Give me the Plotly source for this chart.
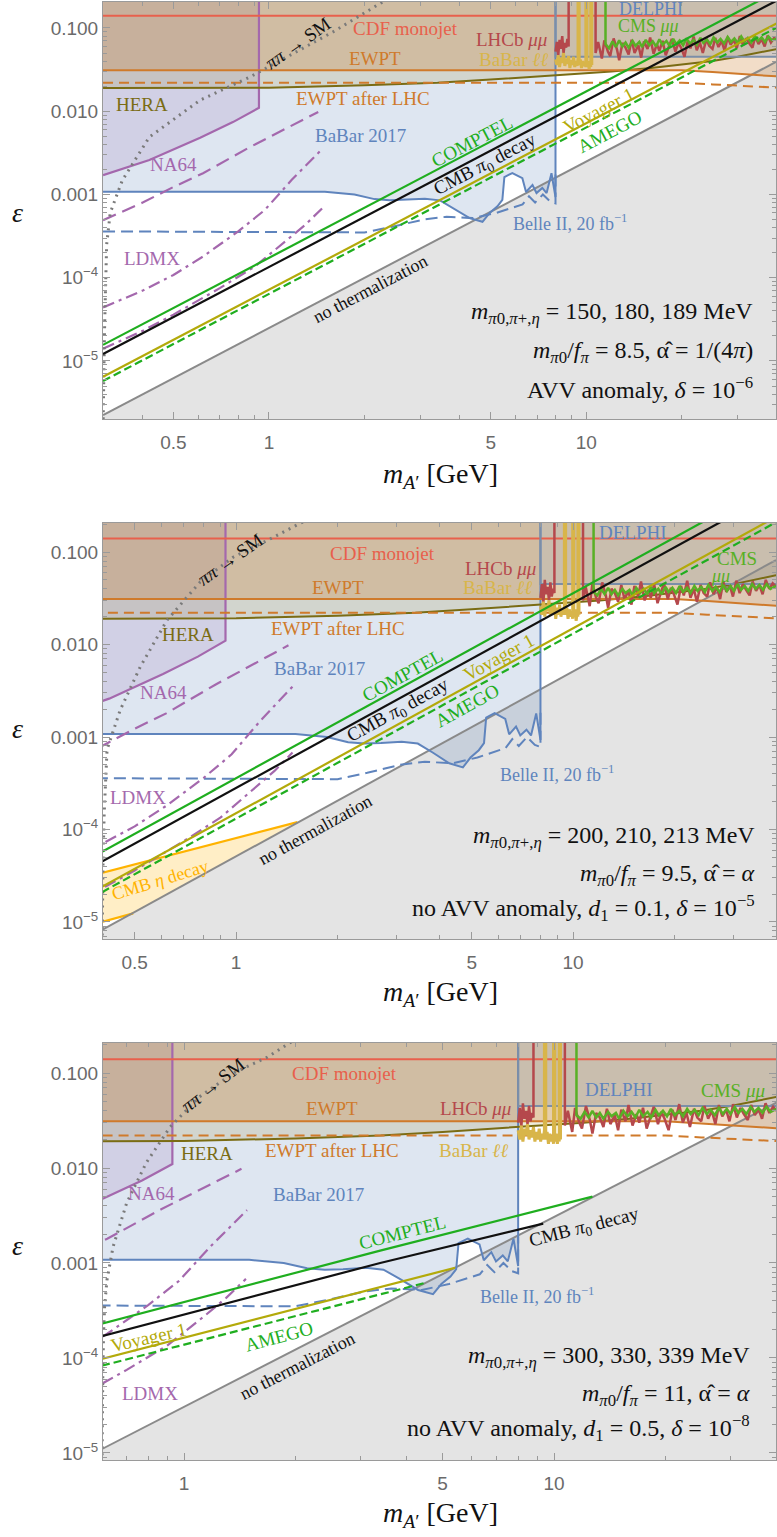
import plotly.graph_objects as go

CEIL = 1.0      # beyond top of every panel
FLOOR = 1e-9    # beyond bottom of every panel

# ---------------- shared experimental constraints ----------------
CDF_M = [0.3, 40.0]
CDF_EPS = [0.14, 0.14]
EWPT_M = [0.3, 20.0, 25.0, 30.0, 40.0]
EWPT_EPS = [0.031, 0.031, 0.0295, 0.028, 0.0262]
EWPT_LHC_M = [0.3, 20.0, 25.0, 30.0, 40.0]
EWPT_LHC_EPS = [0.022, 0.022, 0.021, 0.0202, 0.0192]
HERA_M = [0.3, 1.0, 2.0, 3.4, 5.0, 8.0, 12.0, 16.0, 20.0, 25.0, 30.0, 40.0]
HERA_EPS = [0.019, 0.0192, 0.0205, 0.022, 0.024, 0.027, 0.030, 0.033, 0.036, 0.040, 0.045, 0.056]
NA64_M = [0.3, 0.42, 0.607, 0.77, 0.93]
NA64_EPS = [1.71e-3, 2.6e-3, 4.8e-3, 7.4e-3, 0.011]
NA64_PROJ_M = [0.3, 0.4, 0.5, 0.62, 0.87, 1.1, 1.43]
NA64_PROJ_EPS = [4.9e-4, 8.0e-4, 1.23e-3, 1.8e-3, 3.7e-3, 5.9e-3, 9.8e-3]
LDMX_HI_M = [0.3, 0.4, 0.5, 0.62, 0.8, 0.97, 1.18, 1.48]
LDMX_HI_EPS = [4.4e-5, 7.0e-5, 1.08e-4, 1.8e-4, 3.6e-4, 6.5e-4, 1.5e-3, 3.6e-3]
LDMX_LO_M = [0.3, 0.4, 0.5, 0.7, 0.9, 1.14, 1.3, 1.47]
LDMX_LO_EPS = [1.4e-5, 2.3e-5, 3.6e-5, 7.5e-5, 1.35e-4, 2.8e-4, 4.3e-4, 6.8e-4]
BABAR17_M = [0.3, 1.5, 1.86, 2.15, 2.4, 2.69, 3.1, 3.46, 3.83, 4.29, 4.71, 4.96, 5.25, 5.44,
             5.52, 5.85, 6.29, 6.46, 6.77, 6.97, 7.27, 7.5, 7.77, 8.0]
BABAR17_EPS = [1.08e-3, 1.08e-3, 1.0e-3, 8.8e-4, 8.5e-4, 8.6e-4, 8.9e-4, 8.5e-4, 6.8e-4, 5.2e-4,
               4.7e-4, 6.0e-4, 7.2e-4, 8.6e-4, 1.62e-3, 1.81e-3, 1.57e-3, 1.07e-3, 1.3e-3, 1.04e-3,
               1.2e-3, 1.04e-3, 1.8e-3, 9.3e-4]
BELLE_M = [0.3, 2.0, 2.45, 3.07, 3.63, 4.39, 5.2, 5.85, 6.3, 6.6, 6.9, 7.3, 7.7, 8.0, 8.0]
BELLE_EPS = [3.6e-4, 3.5e-4, 4.1e-4, 5.0e-4, 5.4e-4, 5.2e-4, 6.0e-4, 6.9e-4, 7.6e-4, 9.5e-4,
             8.0e-4, 1.0e-3, 8.2e-4, 7.8e-4, 1.9e-3]
DELPHI_M = [8.0, 8.0, 40.0]
DELPHI_EPS = [CEIL, 0.045, 0.045]

# mass grids of the visible-decay searches
LHCB_A_M = [8.0, 8.08, 8.16, 8.24, 8.32, 8.4, 8.48, 8.56, 8.64, 8.72, 8.8]
LHCB_B_M = [10.7, 10.9, 11.2, 11.4, 11.7, 11.9, 12.2, 12.5, 12.7, 13.0, 13.3, 13.6, 13.9, 14.2, 14.6,
            14.9, 15.2, 15.6, 15.9, 16.3, 16.7, 17.0, 17.4, 17.8, 18.2, 18.6, 19.1, 19.5, 19.9, 20.4,
            20.9, 21.3, 21.8, 22.3, 22.8, 23.3, 23.9, 24.4, 25.0, 25.5, 26.1, 26.7, 27.3, 27.9, 28.5,
            29.2, 29.8, 30.5, 31.2, 31.9, 32.6, 33.4, 34.1, 34.9, 35.7, 36.5, 37.3, 38.2, 39.1, 40.0]
CMS_M = [11.5, 11.8, 12.1, 12.4, 12.7, 13.0, 13.3, 13.6, 14.0, 14.3, 14.7, 15.0, 15.4, 15.8, 16.2,
         16.6, 17.0, 17.4, 17.9, 18.3, 18.8, 19.2, 19.7, 20.2, 20.7, 21.2, 21.8, 22.3, 22.9, 23.4,
         24.0, 24.6, 25.2, 25.9, 26.5, 27.2, 27.9, 28.6, 29.3, 30.0, 30.8, 31.5, 32.3, 33.1, 34.0,
         34.8, 35.7, 36.6, 37.5, 38.5, 40.0]
BBLL_M = [8.0, 8.08, 8.16, 8.24, 8.32, 8.4, 8.48, 8.56, 8.64, 8.72, 8.8, 8.88, 8.96, 9.04, 9.12,
          9.2, 9.28, 9.36, 9.42, 9.42, 9.5, 9.5, 9.58, 9.66, 9.74, 9.82, 9.9, 9.97, 9.97, 10.05,
          10.05, 10.13, 10.21, 10.29, 10.33, 10.33, 10.41, 10.41]
C = CEIL

# ---------------- panel 1 ----------------
P1_NOTH_M, P1_NOTH_EPS = [0.3, 40.0], [2.24e-6, 0.0398]
P1_COMPTEL_M, P1_COMPTEL_EPS = [0.3, 40.0], [1.56e-5, 0.277]
P1_CMBPI_M, P1_CMBPI_EPS = [0.3, 40.0], [1.21e-5, 0.215]
P1_VOY_M, P1_VOY_EPS = [0.3, 40.0], [6.45e-6, 0.1147]
P1_AMEGO_M, P1_AMEGO_EPS = [0.3, 40.0], [5.75e-6, 0.102]
P1_PIPI_M = [0.3003, 0.301, 0.303, 0.305, 0.308, 0.316, 0.345, 0.42, 0.607, 0.87, 1.25, 1.59, 2.28, 2.6]
P1_PIPI_EPS = [2e-6, 6e-6, 2e-5, 6e-5, 2.5e-4, 6e-4, 1.48e-3, 4.9e-3, 0.0136, 0.0257, 0.0545, 0.0895, 0.205, 0.26]
P1_LHCB_A = [0.052, 0.068, 0.047, 0.072, 0.056, 0.08, 0.05, 0.066, 0.058, 0.074, 0.06]
P1_LHCB_B = [0.050, 0.068, 0.043, 0.071, 0.052, 0.046, 0.075, 0.055, 0.041, 0.066,
             0.058, 0.048, 0.072, 0.05, 0.062, 0.044, 0.069, 0.056, 0.077, 0.049,
             0.064, 0.053, 0.07, 0.047, 0.06, 0.074, 0.052, 0.066, 0.058, 0.045,
             0.071, 0.057, 0.079, 0.054, 0.067, 0.05, 0.073, 0.061, 0.056, 0.076,
             0.059, 0.07, 0.053, 0.078, 0.063, 0.072, 0.057, 0.08, 0.062, 0.075,
             0.066, 0.058, 0.079, 0.064, 0.073, 0.06, 0.081, 0.067, 0.076, 0.07]
P1_CMS = [0.064, 0.057, 0.069, 0.059, 0.071, 0.06, 0.067, 0.058, 0.07, 0.061,
          0.068, 0.059, 0.072, 0.062, 0.069, 0.06, 0.073, 0.063, 0.07, 0.061,
          0.074, 0.064, 0.071, 0.062, 0.075, 0.065, 0.072, 0.063, 0.076, 0.066,
          0.073, 0.064, 0.077, 0.067, 0.074, 0.065, 0.078, 0.068, 0.075, 0.066,
          0.079, 0.069, 0.076, 0.067, 0.08, 0.07, 0.077, 0.068, 0.079, 0.071, 0.075]
P1_BBLL = [0.042, 0.036, 0.047, 0.034, 0.044, 0.038, 0.05, 0.035, 0.043, 0.037, 0.046, 0.033, 0.041,
           0.036, 0.045, 0.034, 0.04, 0.035, 0.043, C, C, 0.036, 0.042, 0.033, 0.04, 0.035, 0.038,
           0.034, C, C, 0.035, 0.04, 0.032, 0.038, 0.034, C, C, 0.036]

# ---------------- panel 2 ----------------
P2_NOTH_M, P2_NOTH_EPS = [0.4, 40.0], [8.2e-6, 0.082]
P2_COMPTEL_M, P2_COMPTEL_EPS = [0.4, 40.0], [5.75e-5, 0.575]
P2_CMBPI_M, P2_CMBPI_EPS = [0.4, 40.0], [4.5e-5, 0.45]
P2_VOY_M, P2_VOY_EPS = [0.4, 40.0], [2.4e-5, 0.24]
P2_AMEGO_M, P2_AMEGO_EPS = [0.4, 40.0], [2.1e-5, 0.21]
P2_ETA_HI_M, P2_ETA_HI_EPS = [0.4, 1.52], [3.4e-5, 1.2e-4]
P2_ETA_LO_M, P2_ETA_LO_EPS = [0.4, 0.495], [1.0e-5, 1.24e-5]
P2_PIPI_M = [0.4003, 0.401, 0.403, 0.406, 0.41, 0.414, 0.453, 0.519, 0.624, 0.782, 0.98, 1.24, 1.55, 1.8]
P2_PIPI_EPS = [6e-6, 1.5e-5, 5e-5, 1.5e-4, 4e-4, 7.3e-4, 1.96e-3, 5.7e-3, 0.0184, 0.0474, 0.088, 0.134, 0.205, 0.26]
P2_LHCB_A = [0.032, 0.045, 0.028, 0.05, 0.035, 0.042, 0.03, 0.047, 0.033, 0.04, 0.036]
P2_LHCB_B = [0.030, 0.042, 0.026, 0.045, 0.032, 0.028, 0.047, 0.034, 0.025, 0.04,
             0.036, 0.029, 0.044, 0.031, 0.038, 0.027, 0.043, 0.033, 0.048, 0.03,
             0.039, 0.032, 0.045, 0.028, 0.037, 0.046, 0.031, 0.041, 0.035, 0.027,
             0.043, 0.034, 0.049, 0.032, 0.04, 0.029, 0.044, 0.036, 0.033, 0.047,
             0.035, 0.042, 0.031, 0.048, 0.037, 0.043, 0.033, 0.049, 0.036, 0.045,
             0.039, 0.034, 0.048, 0.038, 0.044, 0.035, 0.05, 0.04, 0.046, 0.042]
P2_CMS = [0.037, 0.034, 0.04, 0.035, 0.041, 0.035, 0.039, 0.034, 0.04, 0.036,
          0.039, 0.034, 0.041, 0.036, 0.04, 0.035, 0.042, 0.036, 0.04, 0.035,
          0.042, 0.037, 0.041, 0.036, 0.043, 0.037, 0.041, 0.036, 0.043, 0.038,
          0.042, 0.037, 0.044, 0.038, 0.042, 0.037, 0.044, 0.038, 0.043, 0.038,
          0.045, 0.039, 0.043, 0.038, 0.045, 0.04, 0.044, 0.039, 0.045, 0.04, 0.043]
P2_BBLL = [0.026, 0.021, 0.029, 0.02, 0.027, 0.023, 0.03, 0.021, 0.026, 0.022, 0.028, 0.019, 0.025,
           0.021, 0.027, 0.02, 0.024, 0.021, 0.026, C, C, 0.021, 0.025, 0.019, 0.024, 0.02, 0.023,
           0.019, C, C, 0.02, 0.024, 0.018, 0.023, 0.02, C, C, 0.021]

# ---------------- panel 3 ----------------
P3_NOTH_M, P3_NOTH_EPS = [0.6, 40.0], [1.1e-5, 0.0489]
P3_COMPTEL_M, P3_COMPTEL_EPS = [0.6, 3.39, 12.7], [2.3e-4, 1.35e-3, 5.0e-3]
P3_CMBPI_M, P3_CMBPI_EPS = [0.6, 3.39, 9.35], [1.7e-4, 1.0e-3, 2.6e-3]
P3_VOY_M, P3_VOY_EPS = [0.6, 5.4], [9.8e-5, 8.9e-4]
P3_AMEGO_M, P3_AMEGO_EPS = [0.6, 4.5], [8.3e-5, 6.2e-4]
P3_PIPI_M = [0.6003, 0.601, 0.603, 0.606, 0.61, 0.619, 0.643, 0.70, 0.79, 0.917, 1.10, 1.36, 1.68, 1.93, 2.1]
P3_PIPI_EPS = [8e-6, 2e-5, 6e-5, 1.8e-4, 3.5e-4, 6.6e-4, 1.48e-3, 4.3e-3, 0.0113, 0.027, 0.056, 0.1, 0.147, 0.207, 0.25]
P3_LHCB_A = [0.03, 0.043, 0.027, 0.048, 0.033, 0.04, 0.029, 0.045, 0.031, 0.038, 0.034]
P3_LHCB_B = [0.028, 0.04, 0.024, 0.043, 0.03, 0.026, 0.045, 0.032, 0.023, 0.038,
             0.034, 0.027, 0.042, 0.029, 0.036, 0.025, 0.041, 0.031, 0.046, 0.028,
             0.037, 0.03, 0.043, 0.026, 0.035, 0.044, 0.029, 0.039, 0.033, 0.025,
             0.041, 0.032, 0.047, 0.03, 0.038, 0.027, 0.042, 0.034, 0.031, 0.045,
             0.033, 0.04, 0.029, 0.046, 0.035, 0.041, 0.031, 0.047, 0.034, 0.043,
             0.037, 0.032, 0.046, 0.036, 0.042, 0.033, 0.048, 0.038, 0.044, 0.04]
P3_CMS = [0.036, 0.033, 0.039, 0.034, 0.04, 0.034, 0.038, 0.033, 0.039, 0.035,
          0.038, 0.033, 0.04, 0.035, 0.039, 0.034, 0.041, 0.035, 0.039, 0.034,
          0.041, 0.036, 0.04, 0.035, 0.042, 0.036, 0.04, 0.035, 0.042, 0.037,
          0.041, 0.036, 0.043, 0.037, 0.041, 0.036, 0.043, 0.037, 0.042, 0.037,
          0.044, 0.038, 0.042, 0.037, 0.044, 0.039, 0.043, 0.038, 0.044, 0.039, 0.042]
P3_BBLL = [0.025, 0.02, 0.028, 0.019, 0.026, 0.022, 0.029, 0.02, 0.025, 0.021, 0.027, 0.019, 0.024,
           0.02, 0.026, 0.019, 0.023, 0.02, 0.025, C, C, 0.02, 0.024, 0.018, 0.023, 0.019, 0.022,
           0.018, C, C, 0.019, 0.023, 0.018, 0.022, 0.019, C, C, 0.02]

# ---------------- ticks ----------------
XMAJ = [0.5, 1, 5, 10]
XMAJ_TXT = ["0.5", "1", "5", "10"]
XMIN = [0.3, 0.4, 0.6, 0.7, 0.8, 0.9, 2, 3, 4, 6, 7, 8, 9, 20, 30, 40]
YMAJ = [1e-5, 1e-4, 1e-3, 1e-2, 1e-1]
YMAJ_TXT = ["10<sup>\u22125</sup>", "10<sup>\u22124</sup>", "0.001", "0.010", "0.100"]
YMIN = [k * 10.0 ** p for p in range(-7, 0) for k in range(2, 10)]

# ---------------- styling ----------------
C_CDF = "#e8604c"; C_EWPT = "#cf7a2b"; C_HERA = "#7a6c14"; C_NA64 = "#a468ad"
C_BLUE = "#5f84bd"; C_DELPHI = "#7b8ea8"; C_GREEN = "#1fae1f"; C_VOY = "#b3aa0a"
C_NOTH = "#8a8a8a"; C_PIPI = "#7a7a7a"; C_LHCB = "#b5484c"; C_BBLL = "#d8b54a"
C_CMS = "#58b025"; C_ETA = "#ffb300"; C_BLACK = "#111111"
F_NOTH = "rgba(0,0,0,0.105)"; F_BABAR = "rgba(91,128,184,0.2)"; F_NA64 = "rgba(150,100,170,0.17)"
F_HERA = "rgba(140,120,10,0.15)"; F_EWPT = "rgba(204,119,34,0.25)"; F_DELPHI = "rgba(91,128,184,0.2)"
F_ETA = "rgba(255,195,50,0.28)"
SERIF = "Liberation Serif"

W, H = 777, 1537
ML, MR, MT, MB = 103, 1, 2, 77
PW, PH = W - ML - MR, H - MT - MB


def xp(px):
    return (px - ML) / PW


def yp(py):
    return 1 - (py - MT) / PH


fig = go.Figure()


def tr(ax, m, e, color, width=2.0, dash=None, fill=None, fillcolor=None):
    fig.add_trace(go.Scatter(x=list(m), y=list(e), mode="lines", xaxis="x" + ax, yaxis="y" + ax,
                             line=dict(color=color, width=width, dash=dash), fill=fill,
                             fillcolor=fillcolor, hoverinfo="skip", showlegend=False))


def fill_above(ax, m, e, fc):
    tr(ax, list(m) + [m[-1], m[0]], list(e) + [CEIL, CEIL], "rgba(0,0,0,0)", 0, fill="toself", fillcolor=fc)


def fill_below(ax, m, e, fc):
    tr(ax, list(m) + [m[-1], m[0]], list(e) + [FLOOR, FLOOR], "rgba(0,0,0,0)", 0, fill="toself", fillcolor=fc)


panels = [
    dict(ax="", top=2, bot=419, xr=[-0.523, 1.598], yr=[-5.697, -0.688],
         noth=(P1_NOTH_M, P1_NOTH_EPS), comptel=(P1_COMPTEL_M, P1_COMPTEL_EPS),
         cmbpi=(P1_CMBPI_M, P1_CMBPI_EPS), voy=(P1_VOY_M, P1_VOY_EPS), amego=(P1_AMEGO_M, P1_AMEGO_EPS),
         pipi=(P1_PIPI_M, P1_PIPI_EPS), lhcb=(P1_LHCB_A, P1_LHCB_B), cms=P1_CMS, bbll=P1_BBLL, eta=None),
    dict(ax="2", top=523, bot=939, xr=[-0.395, 1.602], yr=[-5.184, -0.686],
         noth=(P2_NOTH_M, P2_NOTH_EPS), comptel=(P2_COMPTEL_M, P2_COMPTEL_EPS),
         cmbpi=(P2_CMBPI_M, P2_CMBPI_EPS), voy=(P2_VOY_M, P2_VOY_EPS), amego=(P2_AMEGO_M, P2_AMEGO_EPS),
         pipi=(P2_PIPI_M, P2_PIPI_EPS), lhcb=(P2_LHCB_A, P2_LHCB_B), cms=P2_CMS, bbll=P2_BBLL,
         eta=(P2_ETA_HI_M, P2_ETA_HI_EPS, P2_ETA_LO_M, P2_ETA_LO_EPS)),
    dict(ax="3", top=1043, bot=1460, xr=[-0.219, 1.600], yr=[-5.074, -0.684],
         noth=(P3_NOTH_M, P3_NOTH_EPS), comptel=(P3_COMPTEL_M, P3_COMPTEL_EPS),
         cmbpi=(P3_CMBPI_M, P3_CMBPI_EPS), voy=(P3_VOY_M, P3_VOY_EPS), amego=(P3_AMEGO_M, P3_AMEGO_EPS),
         pipi=(P3_PIPI_M, P3_PIPI_EPS), lhcb=(P3_LHCB_A, P3_LHCB_B), cms=P3_CMS, bbll=P3_BBLL, eta=None),
]

layout_axes = {}
for p in panels:
    ax = p["ax"]
    # fills
    fill_below(ax, *p["noth"], F_NOTH)
    fill_above(ax, BABAR17_M, BABAR17_EPS, F_BABAR)
    fill_above(ax, NA64_M, NA64_EPS, F_NA64)
    fill_above(ax, HERA_M, HERA_EPS, F_HERA)
    fill_above(ax, EWPT_M, EWPT_EPS, F_EWPT)
    fill_above(ax, DELPHI_M[1:], DELPHI_EPS[1:], F_DELPHI)
    if p["eta"]:
        hm, he, lm, le = p["eta"]
        tr(ax, list(hm) + list(lm[::-1]), list(he) + list(le[::-1]), "rgba(0,0,0,0)", 0,
           fill="toself", fillcolor=F_ETA)
        tr(ax, hm, he, C_ETA, 2.2)
        tr(ax, lm, le, C_ETA, 2.2)
    # experimental lines
    tr(ax, *p["noth"], C_NOTH, 2.0)
    tr(ax, BABAR17_M + [BABAR17_M[-1]], BABAR17_EPS + [CEIL], C_BLUE, 2.0)
    tr(ax, BELLE_M, BELLE_EPS, C_BLUE, 2.0, dash="12px,6px")
    tr(ax, NA64_M + [NA64_M[-1]], NA64_EPS + [CEIL], C_NA64, 2.2)
    tr(ax, NA64_PROJ_M, NA64_PROJ_EPS, C_NA64, 2.2, dash="14px,7px")
    tr(ax, LDMX_HI_M, LDMX_HI_EPS, C_NA64, 2.2, dash="12px,5px,3px,5px")
    tr(ax, LDMX_LO_M, LDMX_LO_EPS, C_NA64, 2.2, dash="12px,5px,3px,5px")
    tr(ax, HERA_M, HERA_EPS, C_HERA, 2.0)
    tr(ax, EWPT_M, EWPT_EPS, C_EWPT, 2.0)
    tr(ax, EWPT_LHC_M, EWPT_LHC_EPS, C_EWPT, 2.0, dash="10px,6px")
    tr(ax, CDF_M, CDF_EPS, C_CDF, 2.0)
    tr(ax, DELPHI_M, DELPHI_EPS, C_DELPHI, 2.0)
    la, lb = p["lhcb"]
    tr(ax, LHCB_A_M + [LHCB_A_M[-1], LHCB_B_M[0]] + LHCB_B_M, list(la) + [CEIL, CEIL] + list(lb), C_LHCB, 2.5)
    tr(ax, BBLL_M, p["bbll"], C_BBLL, 3.0)
    tr(ax, [CMS_M[0]] + CMS_M, [CEIL] + list(p["cms"]), C_CMS, 2.5)
    # model lines
    tr(ax, *p["pipi"], C_PIPI, 3.0, dash="2px,5px")
    tr(ax, *p["comptel"], C_GREEN, 2.2)
    tr(ax, *p["voy"], C_VOY, 2.2)
    tr(ax, *p["amego"], C_GREEN, 2.2, dash="8px,4px")
    tr(ax, *p["cmbpi"], C_BLACK, 2.2)

    common = dict(type="log", showline=True, linecolor="#9a9a9a", linewidth=1, mirror="ticks",
                  ticks="inside", ticklen=7, tickwidth=1, tickcolor="#9a9a9a", showgrid=False,
                  zeroline=False, automargin=False,
                  tickfont=dict(family="Liberation Sans", size=19, color="#6a6a6a"))
    layout_axes["xaxis" + ax] = dict(common, range=p["xr"], domain=[0, 1], anchor="y" + ax,
                                     tickmode="array", tickvals=XMAJ, ticktext=XMAJ_TXT,
                                     ticklabelstandoff=6,
                                     minor=dict(tickmode="array", tickvals=XMIN, ticks="inside",
                                                ticklen=4, tickcolor="#9a9a9a", showgrid=False))
    layout_axes["yaxis" + ax] = dict(common, range=p["yr"], domain=[yp(p["bot"]), yp(p["top"])],
                                     anchor="x" + ax, tickmode="array", tickvals=YMAJ, ticktext=YMAJ_TXT,
                                     minor=dict(tickmode="array", tickvals=YMIN, ticks="inside",
                                                ticklen=4, tickcolor="#9a9a9a", showgrid=False))

# ---------------- labels ----------------
A1 = -27.6; A2 = -28.8; A3s = -14.3; A3t = -27.2
PI0 = "<i>\u03c0</i><sub>0</sub>"
LABELS = [
    # panel 1
    (405, 29, "CDF monojet", C_CDF, 19, 0), (375, 58, "EWPT", C_EWPT, 19, 0),
    (363, 98, "EWPT after LHC", C_EWPT, 19, 0), (142, 104, "HERA", C_HERA, 19, 0),
    (173, 164, "NA64", C_NA64, 19, 0), (360, 135, "BaBar 2017", C_BLUE, 19, 0),
    (152, 258, "LDMX", C_NA64, 19, 0), (297, 43, "<i>\u03c0\u03c0</i> \u2192 SM", C_BLACK, 19, -35),
    (472, 142, "COMPTEL", C_GREEN, 19, A1), (485, 165, "CMB " + PI0 + " decay", C_BLACK, 19, A1),
    (598, 110, "Voyager 1", C_VOY, 19, A1), (610, 132, "AMEGO", C_GREEN, 19, A1),
    (570, 222, "Belle II, 20 fb<sup>\u22121</sup>", C_BLUE, 18, 0),
    (370, 289, "no thermalization", C_BLACK, 18, A1),
    (512, 40, "LHCb <i>\u03bc\u03bc</i>", C_LHCB, 19, 0), (513, 60, "BaBar <i>\u2113\u2113</i>", C_BBLL, 19, 0),
    (651, 9, "DELPHI", C_BLUE, 18, 0), (648, 26, "CMS <i>\u03bc\u03bc</i>", C_CMS, 18, 0),
    # panel 2
    (382, 553, "CDF monojet", C_CDF, 19, 0), (338, 587, "EWPT", C_EWPT, 19, 0),
    (338, 628, "EWPT after LHC", C_EWPT, 19, 0), (188, 634, "HERA", C_HERA, 19, 0),
    (163, 693, "NA64", C_NA64, 19, 0), (319, 668, "BaBar 2017", C_BLUE, 19, 0),
    (138, 797, "LDMX", C_NA64, 19, 0), (230, 560, "<i>\u03c0\u03c0</i> \u2192 SM", C_BLACK, 19, -35),
    (402, 675, "COMPTEL", C_GREEN, 19, A2), (398, 711, "CMB " + PI0 + " decay", C_BLACK, 19, A2),
    (498, 657, "Voyager 1", C_VOY, 19, A2), (467, 705, "AMEGO", C_GREEN, 19, A2),
    (160, 880, "CMB <i>\u03b7</i> decay", C_ETA, 18, -17),
    (557, 773, "Belle II, 20 fb<sup>\u22121</sup>", C_BLUE, 18, 0),
    (315, 830, "no thermalization", C_BLACK, 18, A2),
    (500, 568, "LHCb <i>\u03bc\u03bc</i>", C_LHCB, 19, 0), (497, 587, "BaBar <i>\u2113\u2113</i>", C_BBLL, 19, 0),
    (633, 532, "DELPHI", C_BLUE, 19, 0), (737, 558, "CMS", C_CMS, 19, 0),
    (720, 576, "<i>\u03bc\u03bc</i>", C_CMS, 18, 0),
    # panel 3
    (344, 1073, "CDF monojet", C_CDF, 19, 0), (332, 1108, "EWPT", C_EWPT, 19, 0),
    (332, 1150, "EWPT after LHC", C_EWPT, 19, 0), (207, 1153, "HERA", C_HERA, 19, 0),
    (151, 1193, "NA64", C_NA64, 19, 0), (318, 1194, "BaBar 2017", C_BLUE, 19, 0),
    (150, 1393, "LDMX", C_NA64, 19, 0), (212, 1085, "<i>\u03c0\u03c0</i> \u2192 SM", C_BLACK, 19, -38),
    (402, 1232, "COMPTEL", C_GREEN, 19, A3s), (584, 1228, "CMB " + PI0 + " decay", C_BLACK, 19, A3s),
    (148, 1337, "Voyager 1", C_VOY, 19, -13), (279, 1336, "AMEGO", C_GREEN, 19, -15),
    (297, 1366, "no thermalization", C_BLACK, 18, A3t),
    (537, 1295, "Belle II, 20 fb<sup>\u22121</sup>", C_BLUE, 18, 0),
    (475, 1108, "LHCb <i>\u03bc\u03bc</i>", C_LHCB, 19, 0), (473, 1150, "BaBar <i>\u2113\u2113</i>", C_BBLL, 19, 0),
    (619, 1089, "DELPHI", C_BLUE, 19, 0), (733, 1090, "CMS <i>\u03bc\u03bc</i>", C_CMS, 19, 0),
]
MPI = "<i>m</i><sub><i>\u03c0</i>0,<i>\u03c0</i>+,<i>\u03b7</i></sub>"
MF = "<i>m</i><sub><i>\u03c0</i>0</sub>/<i>f</i><sub><i>\u03c0</i></sub>"
AH = "\u03b1\u0302"
PARAMS = [
    (755, 313, MPI + " = 150, 180, 189 MeV"), (755, 352, MF + " = 8.5, " + AH + " = 1/(4<i>\u03c0</i>)"),
    (755, 388, "AVV anomaly, <i>\u03b4</i> = 10<sup>\u22126</sup>"),
    (757, 837, MPI + " = 200, 210, 213 MeV"), (757, 875, MF + " = 9.5, " + AH + " = <i>\u03b1</i>"),
    (757, 908, "no AVV anomaly, <i>d</i><sub>1</sub> = 0.1, <i>\u03b4</i> = 10<sup>\u22125</sup>"),
    (752, 1357, MPI + " = 300, 330, 339 MeV"), (752, 1395, MF + " = 11, " + AH + " = <i>\u03b1</i>"),
    (752, 1428, "no AVV anomaly, <i>d</i><sub>1</sub> = 0.5, <i>\u03b4</i> = 10<sup>\u22128</sup>"),
]
TITLES_X = [(440, 475), (440, 993), (440, 1515)]
TITLES_Y = [(17, 213), (17, 728), (17, 1245)]

ann = []
for px, py, txt, col, sz, ang in LABELS:
    ann.append(dict(x=xp(px), y=yp(py), xref="paper", yref="paper", text=txt, showarrow=False,
                    textangle=ang, xanchor="center", yanchor="middle",
                    font=dict(family=SERIF, size=sz, color=col)))
for px, py, txt in PARAMS:
    ann.append(dict(x=xp(px), y=yp(py), xref="paper", yref="paper", text=txt, showarrow=False,
                    xanchor="right", yanchor="middle", font=dict(family=SERIF, size=24, color="#111111")))
for px, py in TITLES_X:
    ann.append(dict(x=xp(px), y=yp(py), xref="paper", yref="paper",
                    text="<i>m</i><sub><i>A</i>\u2032</sub> [GeV]", showarrow=False,
                    xanchor="center", yanchor="middle", font=dict(family=SERIF, size=28, color="#111111")))
for px, py in TITLES_Y:
    ann.append(dict(x=xp(px), y=yp(py), xref="paper", yref="paper", text="<i>\u03b5</i>", showarrow=False,
                    xanchor="center", yanchor="middle", font=dict(family=SERIF, size=28, color="#111111")))

fig.update_layout(width=W, height=H, margin=dict(l=ML, r=MR, t=MT, b=MB, autoexpand=False), autosize=False,
                  paper_bgcolor="white", plot_bgcolor="white", showlegend=False,
                  annotations=ann, **layout_axes)
fig.write_html("out.html", config={"displayModeBar": False, "staticPlot": True},
               post_script="document.body.style.margin='0';document.body.style.overflow='hidden';")
